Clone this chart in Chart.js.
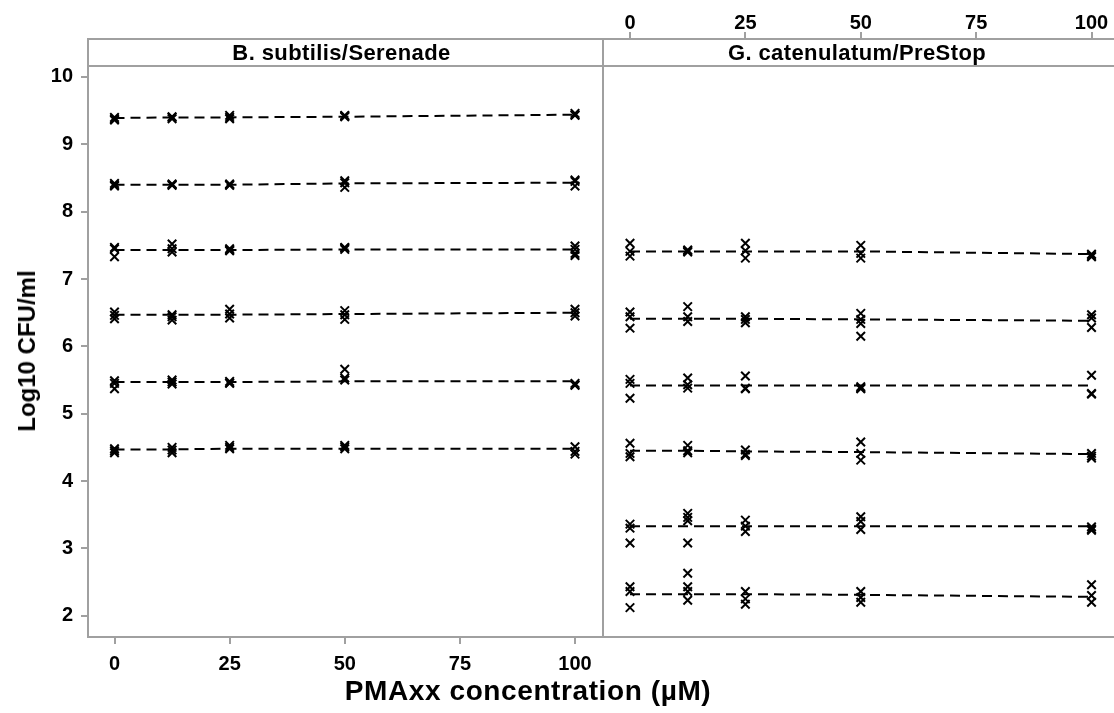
<!DOCTYPE html>
<html><head><meta charset="utf-8">
<script src="https://cdn.jsdelivr.net/npm/chart.js@4.4.0/dist/chart.umd.min.js"></script>
<style>
html,body{margin:0;padding:0;background:#fff;}
#wrap{position:relative;width:1114px;height:713px;overflow:hidden;font-family:'Liberation Sans',Arial,sans-serif;font-weight:bold;color:#000;}
canvas{position:absolute;top:0;}
.ln{position:absolute;background:#a0a0a0;}
.hdr{position:absolute;top:39px;height:27px;line-height:28px;text-align:center;font-size:22px;letter-spacing:0.4px;white-space:nowrap;}
#xt{position:absolute;left:0;width:1056px;top:675px;text-align:center;font-size:28px;letter-spacing:0.6px;white-space:nowrap;}
#yt{position:absolute;left:27px;top:351px;font-size:24px;white-space:nowrap;transform:translate(-50%,-50%) rotate(-90deg);}
</style></head>
<body><div id="wrap">
<canvas id="c1" width="603" height="713" style="left:0"></canvas>
<canvas id="c2" width="511" height="713" style="left:603px"></canvas>
<div class="ln" style="left:87px;top:38px;width:2px;height:600px"></div>
<div class="ln" style="left:602px;top:38px;width:2px;height:600px"></div>
<div class="ln" style="left:87px;top:38px;width:1027px;height:2px"></div>
<div class="ln" style="left:87px;top:65px;width:1027px;height:2px"></div>
<div class="ln" style="left:87px;top:636px;width:1027px;height:2px"></div>
<div class="hdr" style="left:84px;width:515px">B. subtilis/Serenade</div>
<div class="hdr" style="left:600px;width:514px">G. catenulatum/PreStop</div>
<div id="xt">PMAxx concentration (µM)</div>
<div id="yt">Log10 CFU/ml</div>
</div>
<script>
// x positions (PMAxx, µM)
const conc = [0, 12.5, 25, 50, 100];
const xTicks = [0, 25, 50, 75, 100];
const yTicks = [2, 3, 4, 5, 6, 7, 8, 9, 10];

// B. subtilis / Serenade: replicate log10 CFU/ml at each concentration
const bs_9 = [[9.38,9.40,9.36],[9.40,9.38,9.41],[9.43,9.40,9.38],[9.43,9.42,9.41],[9.46,9.44,9.43]];
const bs_8 = [[8.42,8.38,8.40],[8.40,8.39,8.41],[8.40,8.39,8.41],[8.46,8.43,8.36],[8.47,8.38,8.45]];
const bs_7 = [[7.47,7.33,7.45],[7.52,7.40,7.45],[7.45,7.42,7.43],[7.47,7.44,7.46],[7.49,7.38,7.44,7.35]];
const bs_6 = [[6.51,6.41,6.46],[6.47,6.39,6.44],[6.55,6.42,6.48],[6.53,6.40,6.47],[6.55,6.45,6.50]];
const bs_5 = [[5.49,5.37,5.45],[5.50,5.44,5.47],[5.48,5.45,5.46],[5.66,5.53,5.50],[5.45,5.42,5.43]];
const bs_4 = [[4.48,4.42,4.45],[4.50,4.42,4.46],[4.53,4.48,4.50],[4.53,4.48,4.51],[4.51,4.40,4.44]];

// G. catenulatum / PreStop
const gc_7 = [[7.53,7.41,7.34],[7.43,7.40,7.42],[7.53,7.31,7.42],[7.50,7.38,7.31],[7.37,7.33,7.35]];
const gc_6 = [[6.51,6.44,6.27],[6.59,6.44,6.37],[6.44,6.35,6.40],[6.49,6.40,6.34,6.15],[6.47,6.42,6.28]];
const gc_5 = [[5.51,5.45,5.23],[5.53,5.43,5.38],[5.56,5.38,5.37],[5.40,5.37,5.38],[5.57,5.30,5.29]];
const gc_4 = [[4.56,4.41,4.36],[4.53,4.45,4.42],[4.46,4.40,4.38],[4.58,4.41,4.31],[4.41,4.34,4.37]];
const gc_3 = [[3.36,3.30,3.08],[3.52,3.46,3.41,3.08],[3.42,3.33,3.25],[3.47,3.40,3.28],[3.32,3.27,3.29]];
const gc_2 = [[2.43,2.36,2.12],[2.63,2.43,2.36,2.23],[2.36,2.25,2.17],[2.36,2.27,2.20],[2.46,2.30,2.20]];

// dashed fitted lines at each concentration
const fit_bs_9 = [9.39, 9.40, 9.40, 9.41, 9.44];
const fit_bs_8 = [8.40, 8.40, 8.40, 8.42, 8.43];
const fit_bs_7 = [7.43, 7.43, 7.43, 7.44, 7.44];
const fit_bs_6 = [6.47, 6.47, 6.47, 6.48, 6.50];
const fit_bs_5 = [5.47, 5.47, 5.47, 5.48, 5.48];
const fit_bs_4 = [4.47, 4.47, 4.48, 4.48, 4.48];
const fit_gc_7 = [7.41, 7.41, 7.41, 7.41, 7.37];
const fit_gc_6 = [6.41, 6.41, 6.41, 6.40, 6.38];
const fit_gc_5 = [5.42, 5.42, 5.42, 5.42, 5.42];
const fit_gc_4 = [4.45, 4.45, 4.44, 4.43, 4.40];
const fit_gc_3 = [3.33, 3.33, 3.33, 3.33, 3.33];
const fit_gc_2 = [2.32, 2.32, 2.32, 2.31, 2.28];

const leftGroups = [[bs_9, fit_bs_9], [bs_8, fit_bs_8], [bs_7, fit_bs_7], [bs_6, fit_bs_6], [bs_5, fit_bs_5], [bs_4, fit_bs_4]];
const rightGroups = [[gc_7, fit_gc_7], [gc_6, fit_gc_6], [gc_5, fit_gc_5], [gc_4, fit_gc_4], [gc_3, fit_gc_3], [gc_2, fit_gc_2]];

const FONT = {family:"'Liberation Sans', Arial, sans-serif", weight:'bold', size:20};
const GRAY = '#a0a0a0';

function datasets(groups){
  const ds = [];
  groups.forEach(([g, fit]) => {
    const pts = [];
    g.forEach((reps, i) => reps.forEach(v => pts.push({x: conc[i], y: v})));
    const line = fit.map((v, i) => ({x: conc[i], y: v}));
    ds.push({data: line, showLine: true, borderColor:'#000', borderWidth: 2, borderDash:[10,6], pointRadius: 0, order: 2});
    ds.push({data: pts, showLine: false, pointStyle:'crossRot', pointRadius: 6, borderColor:'#000', backgroundColor:'#000', pointBorderWidth: 2, order: 1});
  });
  return ds;
}

function setTicks(vals){ return s => { s.ticks = vals.map(v => ({value: v})); }; }

const yMin = 1.684, yMax = 10.564;

new Chart(document.getElementById('c1'), {
  type: 'scatter',
  data: {datasets: datasets(leftGroups)},
  options: {
    responsive: false, animation: false, devicePixelRatio: 1,
    layout: {autoPadding: false, padding: {top: 39, left: 0, right: 0, bottom: 0}},
    plugins: {legend: {display: false}, tooltip: {enabled: false}},
    scales: {
      x: {type:'linear', position:'bottom', min: -5.755, max: 106.08,
          afterBuildTicks: setTicks(xTicks), afterFit: s => { s.height = 76; },
          grid: {display:true, drawOnChartArea:false, drawTicks:true, tickLength:7, color:GRAY, lineWidth:2},
          border: {display:false},
          ticks: {color:'#000', font: FONT, padding: 8, maxRotation:0, autoSkip:false}},
      y: {type:'linear', min: yMin, max: yMax,
          afterBuildTicks: setTicks(yTicks), afterFit: s => { s.width = 88; },
          grid: {display:true, drawOnChartArea:false, drawTicks:true, tickLength:7, color:GRAY, lineWidth:2},
          border: {display:false},
          ticks: {color:'#000', font: FONT, padding: 8, autoSkip:false}}
    }
  }
});

new Chart(document.getElementById('c2'), {
  type: 'scatter',
  data: {datasets: datasets(rightGroups)},
  options: {
    responsive: false, animation: false, devicePixelRatio: 1,
    layout: {autoPadding: false, padding: {top: 0, left: 0, right: 0, bottom: 76}},
    plugins: {legend: {display: false}, tooltip: {enabled: false}},
    scales: {
      x: {type:'linear', position:'top', min: -5.85, max: 104.87,
          afterBuildTicks: setTicks(xTicks), afterFit: s => { s.height = 39; },
          grid: {display:true, drawOnChartArea:false, drawTicks:true, tickLength:7, color:GRAY, lineWidth:2},
          border: {display:false},
          ticks: {color:'#000', font: FONT, padding: -3, maxRotation:0, autoSkip:false}},
      y: {type:'linear', display:false, min: yMin, max: yMax}
    }
  }
});
</script>
</body></html>
